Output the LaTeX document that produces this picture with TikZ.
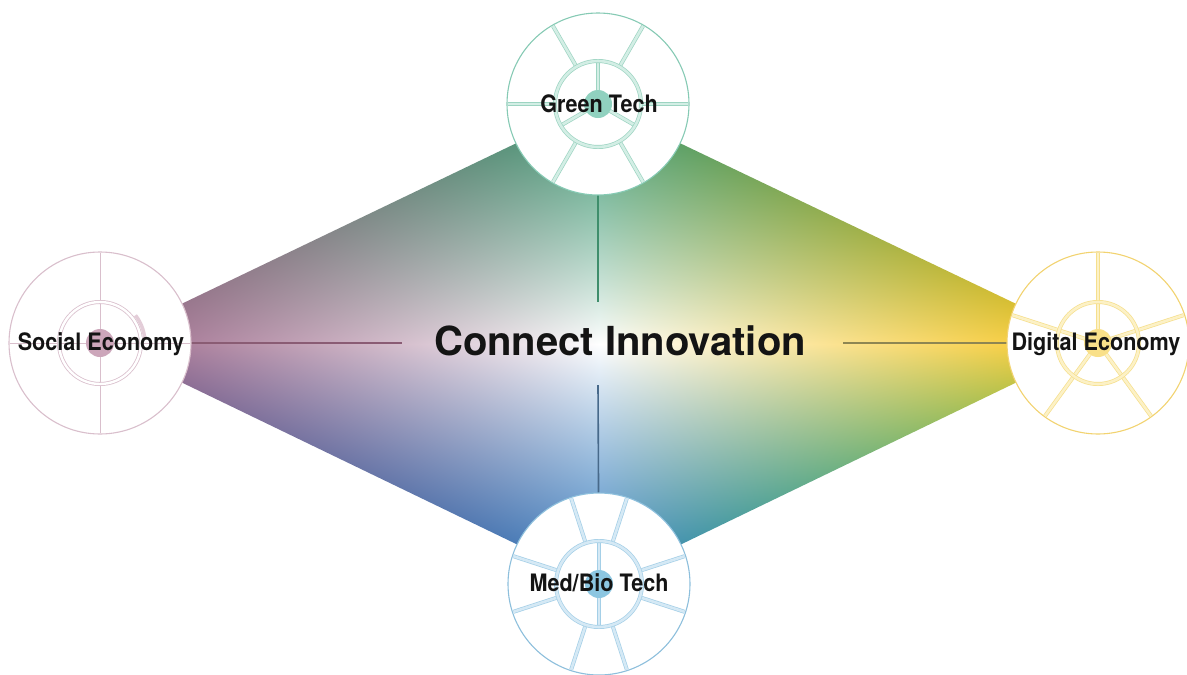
\documentclass[tikz,border=0pt]{standalone}
\usepackage{fontspec}
\setmainfont{TeX Gyre Heros}
\newfontfamily\labelfont[FakeStretch=0.9]{TeX Gyre Heros}

% Four-corner colour field for the diamond: mauve (left), green (top),
% yellow (right), blue (bottom), fading to white in the middle.
% Inner 50bp square (25..75) is mapped onto the path's bounding box.
% Extra terms brighten the mauve/green side and turn the yellow/blue side green.
\pgfdeclarefunctionalshading{diamondmix}{\pgfpoint{0bp}{0bp}}{\pgfpoint{100bp}{100bp}}{}{%
  50 sub 25 div exch 50 sub 25 div
  dup abs 2 index abs add 0.001 add -0.1 exp
  1 index abs -0.205 mul 2 index 0.175 mul add 3 index abs -0.76 mul add 3 index 0.01 mul add
  2 index abs 3 index add 4 index abs 5 index sub mul -0.15 mul add
  2 index abs 3 index sub 4 index abs 5 index add mul 0.08 mul add
  1 index mul 1 add
  2 index abs -0.40 mul 3 index 0.18 mul add 4 index abs -0.45 mul add 4 index 0.05 mul add
  3 index abs 4 index add 5 index abs 6 index sub mul 0.06 mul add
  3 index abs 4 index sub 5 index abs 6 index add mul 0.03 mul add
  2 index mul 1 add
  3 index abs -0.65 mul 4 index -0.20 mul add 5 index abs -0.40 mul add 5 index -0.15 mul add
  4 index abs 5 index add 6 index abs 7 index sub mul 0.05 mul add
  4 index abs 5 index sub 6 index abs 7 index add mul 0.04 mul add
  3 index mul 1 add
  6 3 roll pop pop pop
}

\definecolor{socrim}{HTML}{D9BFCC}
\definecolor{socdot}{HTML}{CCA6BA}
\definecolor{socband}{HTML}{E3CDD8}
\definecolor{socconn}{HTML}{8A5C74}
\definecolor{grnrim}{HTML}{86CAB4}
\definecolor{grnedge}{HTML}{9DD4C2}
\definecolor{grnfill}{HTML}{D3EEE5}
\definecolor{grndot}{HTML}{90D1BF}
\definecolor{grnconn}{HTML}{3F8E6C}
\definecolor{digrim}{HTML}{F2D370}
\definecolor{digedge}{HTML}{F6DF8C}
\definecolor{digfill}{HTML}{FCF1C6}
\definecolor{digdot}{HTML}{F9E089}
\definecolor{digconn}{HTML}{8E8652}
\definecolor{medrim}{HTML}{8DBFDC}
\definecolor{mededge}{HTML}{A4CFE7}
\definecolor{medfill}{HTML}{D5E9F5}
\definecolor{meddot}{HTML}{8CC6E1}
\definecolor{medconn}{HTML}{47698A}
\definecolor{inktext}{HTML}{141414}

\tikzset{
  hub/.style={circle, minimum size=182pt, inner sep=0pt, fill=white, draw=#1, line width=1.1pt},
  band/.style 2 args={draw=#1, double=#2, line width=0.7pt, double distance=2.6pt},
  conn/.style={draw=#1, line width=1.6pt},
  hublabel/.style={font=\labelfont\bfseries\fontsize{24}{24}\selectfont, text=inktext, inner sep=0pt},
  title/.style={font=\bfseries\fontsize{40}{40}\selectfont, text=inktext, inner sep=0pt}
}

\begin{document}
\begin{tikzpicture}[x=1pt,y=-1pt]
\useasboundingbox (0,0) rectangle (1187,675);

% hub centres
\coordinate (cS) at (100,343);
\coordinate (cG) at (598,104);
\coordinate (cD) at (1098,343);
\coordinate (cM) at (599,584);

% colour field
\shade[shading=diamondmix] (cS) -- (cG) -- (cD) -- (cM) -- cycle;

% connector ends near the title
\coordinate (hl) at (402,343);
\coordinate (hr) at (843,343);
\coordinate (vt) at (598,302);
\coordinate (vb) at (598,385);

\draw[conn=socconn] (cS) -- (hl);
\draw[conn=digconn] (cD) -- (hr);
\draw[conn=grnconn] (cG) -- (vt);
\draw[conn=medconn] (cM) -- (vb);

% hubs
\node[hub=socrim] (social) at (cS) {};
\node[hub=grnrim] (green) at (cG) {};
\node[hub=digrim] (digital) at (cD) {};
\node[hub=medrim] (medbio) at (cM) {};

% Social Economy hub
\begin{scope}[shift={(cS)}, yscale=-1]
  \draw[socrim, line width=1pt] (90:90) -- (270:90);
  \draw[socrim, line width=1pt] (180:90) -- (0:90);
  \draw[socrim, double=white, line width=0.8pt, double distance=2.4pt] (0,0) circle (41);
  \draw[socband, line width=3.5pt] (5:45) arc (5:38:45);
  \fill[socdot] (0,0) circle (14);
\end{scope}

% Green Tech hub
\begin{scope}[shift={(cG)}, yscale=-1]
  \foreach \a in {0,60,...,300} \draw[band={grnedge}{grnfill}] (\a:45) -- (\a:90);
  \foreach \a in {90,210,330} \draw[band={grnedge}{grnfill}] (\a:12) -- (\a:42);
  \draw[band={grnedge}{grnfill}] (0,0) circle (43);
  \fill[grndot] (0,0) circle (14);
\end{scope}

% Digital Economy hub
\begin{scope}[shift={(cD)}, yscale=-1]
  \foreach \a in {18,90,162,234,306} \draw[band={digedge}{digfill}] (\a:12) -- (\a:90);
  \draw[band={digedge}{digfill}] (0,0) circle (41);
  \fill[digdot] (0,0) circle (14);
\end{scope}

% Med/Bio Tech hub
\begin{scope}[shift={(cM)}, yscale=-1]
  \foreach \a in {18,72,108,162,198,252,288,342} \draw[band={mededge}{medfill}] (\a:45) -- (\a:90);
  \foreach \a in {90,270} \draw[band={mededge}{medfill}] (\a:12) -- (\a:42);
  \draw[band={mededge}{medfill}] (0,0) circle (43);
  \fill[meddot] (0,0) circle (14);
\end{scope}

% labels
\node[hublabel] (socialtxt) at (101,344) {Social Economy};
\node[hublabel] (greentxt) at (599,104) {Green Tech};
\node[hublabel] (digitaltxt) at (1096,344) {Digital Economy};
\node[hublabel] (medbiotxt) at (599,583) {Med/Bio Tech};
\node[title] (title) at (620,341) {Connect Innovation};
\end{tikzpicture}
\end{document}
